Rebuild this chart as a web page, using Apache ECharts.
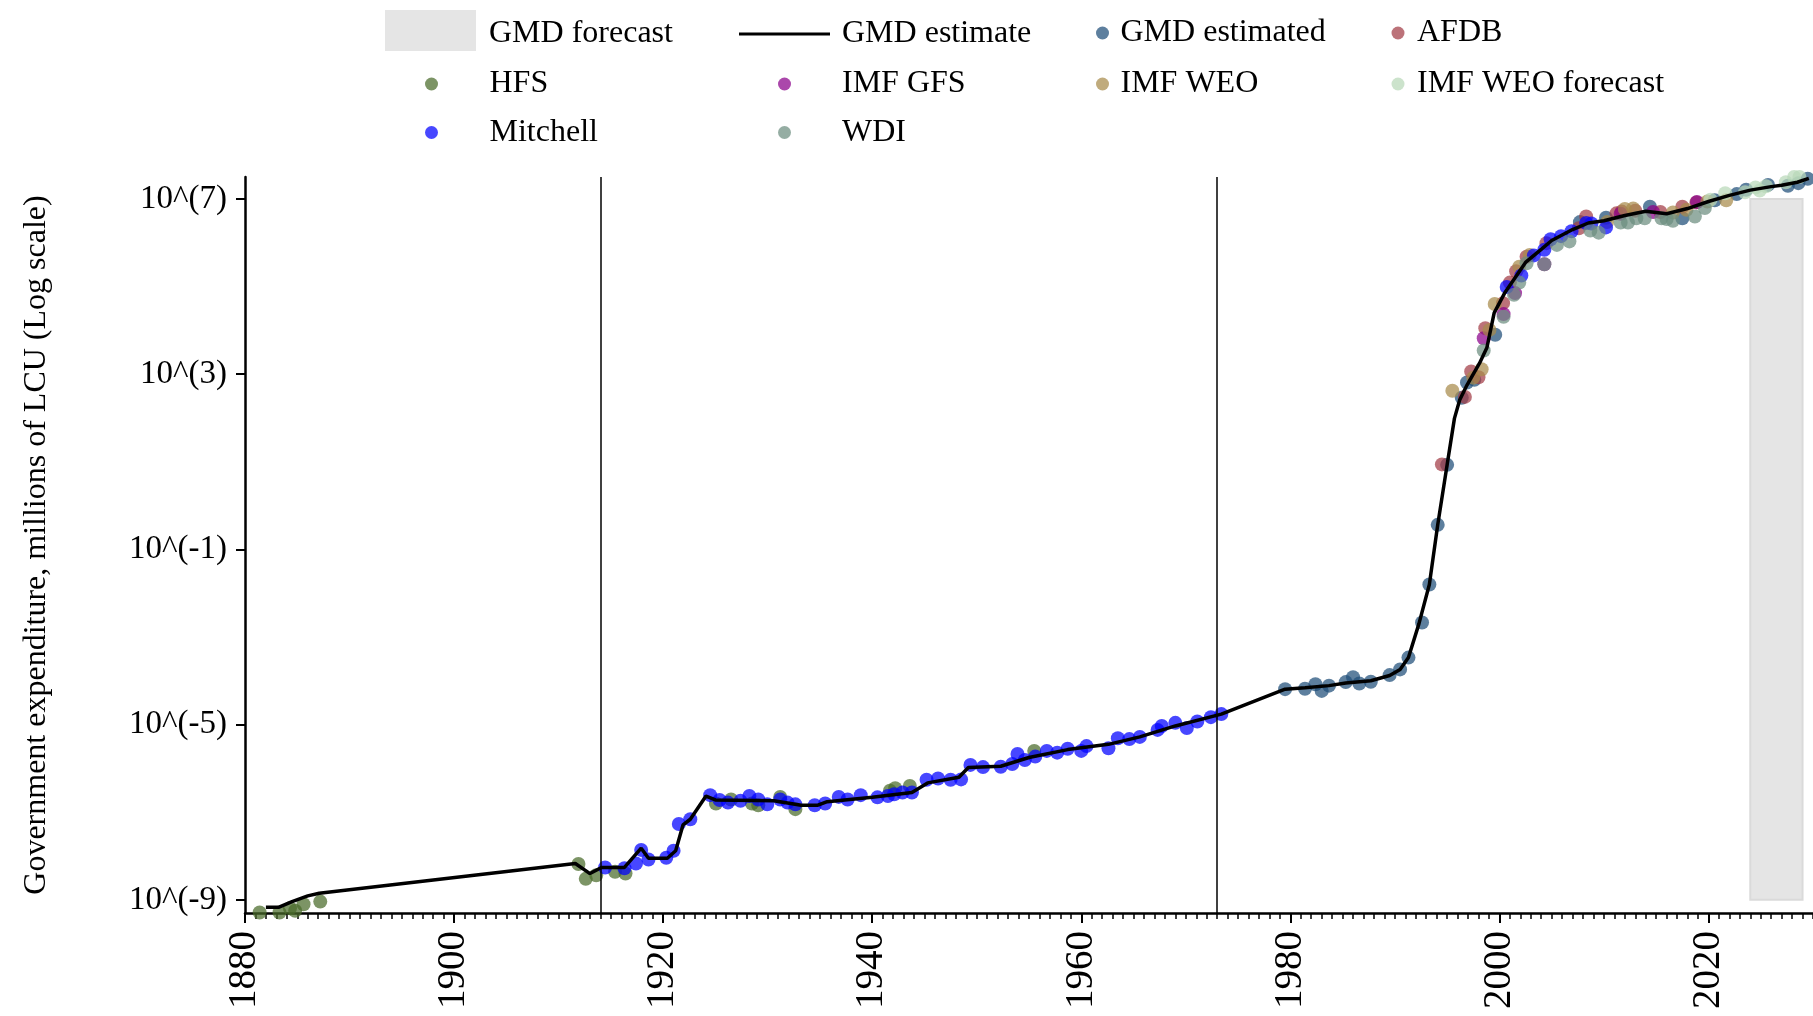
<!DOCTYPE html>
<html>
<head>
<meta charset="utf-8">
<script src="https://cdn.jsdelivr.net/npm/echarts@6/dist/echarts.min.js"></script>
<style>
html,body{margin:0;padding:0;background:#fff;}
#chart{width:1813px;height:1016px;}
</style>
</head>
<body>
<div id="chart"></div>
<script>
// ---------- DATA (values are log10 of expenditure, millions of LCU) ----------
const xTickYears = [1880, 1900, 1920, 1940, 1960, 1980, 2000, 2020];
const yTickExp = [-9, -5, -1, 3, 7];
const eventYears = [1914, 1973];
const forecastSpan = [2024, 2029];

const lineYears = [1882.0, 1883.2, 1884.5, 1886.0, 1887.1, 1911.6, 1913.0, 1914.1, 1916.3, 1917.9, 1918.6, 1920.4, 1921.2, 1921.9, 1922.6, 1924.1, 1925.0, 1930.6, 1933.2, 1934.8, 1935.7, 1940.0, 1943.8, 1945.3, 1948.3, 1949.2, 1952.3, 1955.0, 1958.7, 1962.6, 1965.6, 1969.0, 1973.4, 1979.5, 1981.4, 1983.7, 1985.3, 1987.7, 1989.5, 1990.5, 1991.3, 1992.3, 1993.3, 1994.1, 1995.0, 1995.7, 1996.2, 1996.9, 1998.1, 1998.8, 1999.5, 2000.5, 2001.5, 2002.5, 2004.0, 2005.0, 2007.0, 2008.5, 2010.0, 2012.0, 2014.0, 2016.0, 2018.0, 2020.0, 2022.0, 2024.0, 2026.0, 2027.0, 2028.5, 2029.6];
const lineExp = [-9.17, -9.17, -9.04, -8.91, -8.85, -8.17, -8.40, -8.26, -8.26, -7.82, -8.05, -8.05, -7.88, -7.29, -7.16, -6.63, -6.72, -6.74, -6.84, -6.84, -6.76, -6.66, -6.55, -6.33, -6.20, -5.98, -5.95, -5.75, -5.57, -5.45, -5.28, -5.03, -4.76, -4.19, -4.16, -4.11, -4.05, -4.00, -3.88, -3.74, -3.47, -2.70, -1.80, -0.44, 0.93, 1.99, 2.41, 2.75, 3.25, 3.60, 4.40, 4.85, 5.20, 5.55, 5.85, 6.05, 6.30, 6.45, 6.50, 6.62, 6.72, 6.66, 6.78, 6.94, 7.08, 7.20, 7.28, 7.31, 7.38, 7.47];

const gmdEstYears = [1979.5, 1981.4, 1982.4, 1983.0, 1983.7, 1985.3, 1986.0, 1986.6, 1987.7, 1989.5, 1990.5, 1991.3, 1992.6, 1993.3, 1994.1, 1995.0, 1996.4, 1996.9, 1997.6, 1999.6, 2007.7, 2010.2, 2014.4, 2017.5, 2020.6, 2022.7, 2023.6, 2025.7, 2027.6, 2028.6, 2029.5];
const gmdEstExp = [-4.19, -4.18, -4.08, -4.23, -4.11, -4.03, -3.92, -4.06, -4.02, -3.87, -3.74, -3.47, -2.67, -1.80, -0.44, 0.93, 2.46, 2.81, 2.87, 3.90, 6.47, 6.57, 6.82, 6.56, 6.97, 7.11, 7.21, 7.32, 7.30, 7.36, 7.46];

const afdbYears = [1994.5, 1996.7, 1997.3, 1998.0, 1998.65, 2000.35, 2001.0, 2001.6, 2002.6, 2004.5, 2007.6, 2008.3, 2011.2, 2011.7, 2013.0, 2015.4, 2017.5, 2018.85];
const afdbExp = [0.94, 2.48, 3.06, 2.93, 4.05, 4.62, 5.09, 5.35, 5.68, 5.99, 6.33, 6.60, 6.67, 6.71, 6.73, 6.70, 6.82, 6.92];

const hfsYears = [1881.4, 1883.3, 1884.3, 1884.8, 1885.6, 1887.2, 1911.9, 1912.6, 1913.6, 1915.4, 1916.4, 1925.05, 1926.5, 1928.5, 1929.1, 1931.2, 1932.65, 1941.7, 1942.2, 1943.6, 1955.5];
const hfsExp = [-9.29, -9.29, -9.19, -9.25, -9.10, -9.04, -8.18, -8.52, -8.44, -8.36, -8.40, -6.80, -6.71, -6.80, -6.84, -6.65, -6.93, -6.51, -6.45, -6.40, -5.60];

const imfGfsYears = [1998.5, 2000.4, 2001.5, 2004.3, 2011.6, 2014.7, 2018.9];
const imfGfsExp = [3.82, 4.37, 4.85, 5.51, 6.66, 6.70, 6.93];

const imfWeoYears = [1995.5, 1997.5, 1998.3, 1999.05, 1999.55, 2001.9, 2002.9, 2010.3, 2012.0, 2012.8, 2016.6, 2017.9, 2019.9, 2021.7];
const imfWeoExp = [2.62, 2.92, 3.11, 4.01, 4.60, 5.45, 5.72, 6.47, 6.77, 6.78, 6.69, 6.75, 6.94, 6.97];

const weoFcYears = [2020.2, 2021.6, 2023.5, 2024.5, 2024.9, 2025.5, 2027.4, 2028.2, 2028.7];
const weoFcExp = [6.98, 7.13, 7.15, 7.26, 7.19, 7.29, 7.38, 7.50, 7.50];

const mitchellYears = [1914.45, 1916.3, 1917.4, 1917.9, 1918.6, 1920.3, 1921.0, 1921.5, 1922.6, 1924.5, 1925.4, 1926.2, 1927.4, 1928.25, 1929.1, 1929.96, 1931.2, 1931.9, 1932.65, 1934.5, 1935.5, 1936.8, 1937.65, 1938.9, 1940.5, 1941.5, 1942.1, 1942.9, 1943.8, 1945.2, 1946.3, 1947.5, 1948.5, 1949.4, 1950.6, 1952.3, 1953.4, 1953.9, 1954.6, 1955.6, 1956.7, 1957.7, 1958.7, 1960.0, 1960.5, 1962.6, 1963.5, 1964.6, 1965.6, 1967.3, 1967.7, 1969.0, 1970.1, 1971.1, 1972.4, 1973.4, 2000.7, 2002.1, 2003.3, 2004.3, 2004.9, 2005.9, 2006.9, 2008.3, 2008.8, 2010.2];
const mitchellExp = [-8.26, -8.28, -8.17, -7.86, -8.08, -8.04, -7.88, -7.27, -7.16, -6.61, -6.72, -6.78, -6.74, -6.63, -6.71, -6.82, -6.71, -6.78, -6.82, -6.84, -6.80, -6.65, -6.71, -6.61, -6.66, -6.63, -6.59, -6.55, -6.55, -6.26, -6.23, -6.26, -6.25, -5.92, -5.97, -5.96, -5.90, -5.67, -5.81, -5.73, -5.60, -5.64, -5.55, -5.60, -5.49, -5.54, -5.31, -5.33, -5.28, -5.12, -5.03, -4.96, -5.08, -4.93, -4.83, -4.76, 4.99, 5.25, 5.71, 5.84, 6.08, 6.15, 6.26, 6.45, 6.44, 6.35];

const wdiYears = [1998.5, 2000.4, 2001.4, 2001.9, 2002.6, 2004.3, 2005.5, 2006.7, 2008.7, 2009.5, 2011.6, 2012.3, 2013.1, 2013.9, 2015.5, 2016.0, 2016.6, 2018.7, 2019.65];
const wdiExp = [3.54, 4.31, 4.81, 5.09, 5.53, 5.51, 5.95, 6.03, 6.28, 6.23, 6.46, 6.46, 6.56, 6.56, 6.56, 6.54, 6.50, 6.60, 6.79];

// ---------- CHART ----------
const pairs = (xs, ys) => xs.map((x, i) => [x, ys[i]]);
const FONT = '"Liberation Serif", "Times New Roman", Times, serif';
const DOT_ALPHA = 0.72;

function scatter(name, xs, ys, color) {
  return {
    name, type: 'scatter', data: pairs(xs, ys),
    symbol: 'circle', symbolSize: 14, clip: false,
    itemStyle: { color, opacity: DOT_ALPHA },
    emphasis: { disabled: true }
  };
}

const legendText = { fontSize: 32, fontFamily: FONT, color: '#000' };
const DOT = 13;
// dot legend: centre of dot (cx), row top, icon slot width
function dotLegend(name, cx, top, w) {
  return { data: [{ name, icon: 'circle' }], left: cx - DOT / 2, top, orient: 'horizontal',
    itemWidth: w, itemHeight: DOT, padding: 0, itemGap: 0, symbolKeepAspect: true,
    textStyle: legendText };
}
const ROW1 = 17, ROW2 = 68, ROW3 = 116.5;
// grey swatch drawn in the upper part of a taller slot so the label sits a bit lower
const SWATCH = 'path://M0,0L91,0L91,41L0,41ZM0,48L0.5,48L0,48Z';

const chart = echarts.init(document.getElementById('chart'), null, { renderer: 'canvas' });
chart.setOption({
  animation: false,
  backgroundColor: '#fff',
  grid: { left: 245, top: 177, width: 1568, height: 736, containLabel: false, outerBoundsMode: 'none' },
  legend: [
    { data: [{ name: 'GMD forecast', icon: SWATCH, itemStyle: { color: '#e5e5e5' } }], left: 385, top: 10,
      itemWidth: 91, itemHeight: 48, padding: 0, itemGap: 0, symbolKeepAspect: false,
      textStyle: Object.assign({ padding: [0, 0, 0, 8] }, legendText) },
    { data: [{ name: 'GMD estimate', icon: 'rect', itemStyle: { color: '#000' } }], left: 739, top: ROW1 + 1,
      itemWidth: 91, itemHeight: 3, padding: 0, itemGap: 0,
      textStyle: Object.assign({ padding: [0, 0, 0, 7] }, legendText) },
    dotLegend('GMD estimated', 1102.5, ROW1, 26),
    dotLegend('AFDB', 1398, ROW1, 28),
    dotLegend('HFS', 431.5, ROW2, 106),
    dotLegend('IMF GFS', 784.5, ROW2, 105),
    dotLegend('IMF WEO', 1102.5, ROW2, 26),
    dotLegend('IMF WEO forecast', 1398, ROW2, 28),
    dotLegend('Mitchell', 431.5, ROW3, 106),
    dotLegend('WDI', 784.5, ROW3, 105)
  ],
  xAxis: [
    {
      type: 'value', min: 1880, max: 2030, interval: 20, position: 'bottom',
      axisLine: { show: true, onZero: false, lineStyle: { color: '#000', width: 2.5 } },
      axisTick: { show: true, length: 10, customValues: xTickYears, lineStyle: { color: '#000', width: 2 } },
      axisLabel: { customValues: xTickYears, rotate: 90, margin: 18, fontSize: 39, fontFamily: FONT, color: '#000',
        formatter: v => String(v) },
      splitLine: { show: false }
    },
    {
      type: 'value', min: 1880, max: 2030, interval: 1, position: 'bottom', gridIndex: 0,
      axisLine: { show: false, onZero: false },
      axisTick: { show: true, length: 6, lineStyle: { color: '#000', width: 1.5 } },
      axisLabel: { show: false },
      splitLine: { show: false }
    }
  ],
  yAxis: {
    type: 'value', min: -9.3, max: 7.5,
    name: 'Government expenditure, millions of LCU (Log scale)',
    nameLocation: 'middle', nameGap: 192,
    nameTextStyle: { fontSize: 32, fontFamily: FONT, color: '#000' },
    axisLine: { show: true, onZero: false, lineStyle: { color: '#000', width: 2.5 } },
    axisTick: { show: true, length: 9, customValues: yTickExp, lineStyle: { color: '#000', width: 2 } },
    axisLabel: { customValues: yTickExp, margin: 18, fontSize: 33, fontFamily: FONT, color: '#000',
      formatter: v => '10^(' + v + ')' },
    splitLine: { show: false }
  },
  series: [
    {
      name: 'GMD forecast', type: 'line', data: [], symbol: 'none',
      itemStyle: { color: '#e5e5e5' }, lineStyle: { color: '#e5e5e5' },
      markArea: { silent: true, itemStyle: { color: '#e5e5e5', borderColor: '#dadada', borderWidth: 2 },
        data: [[{ xAxis: forecastSpan[0], yAxis: yTickExp[0] }, { xAxis: forecastSpan[1], yAxis: yTickExp[yTickExp.length - 1] }]] }
    },
    {
      name: 'GMD estimate', type: 'line', data: pairs(lineYears, lineExp), symbol: 'none',
      lineStyle: { color: '#000', width: 3.5 }, itemStyle: { color: '#000' },
      emphasis: { disabled: true },
      markLine: { silent: true, symbol: ['none', 'none'], label: { show: false },
        lineStyle: { color: '#000', width: 1.5, type: 'solid' },
        data: eventYears.map(y => ({ xAxis: y })) }
    },
    scatter('GMD estimated', gmdEstYears, gmdEstExp, '#1f4e79'),
    scatter('AFDB', afdbYears, afdbExp, '#a23b45'),
    scatter('HFS', hfsYears, hfsExp, '#4a6b29'),
    scatter('IMF GFS', imfGfsYears, imfGfsExp, '#8b008b'),
    scatter('IMF WEO', imfWeoYears, imfWeoExp, '#a88b4b'),
    scatter('IMF WEO forecast', weoFcYears, weoFcExp, '#b9d8b9'),
    scatter('Mitchell', mitchellYears, mitchellExp, '#0000ff'),
    scatter('WDI', wdiYears, wdiExp, '#6c8e80')
  ]
});
</script>
</body>
</html>
